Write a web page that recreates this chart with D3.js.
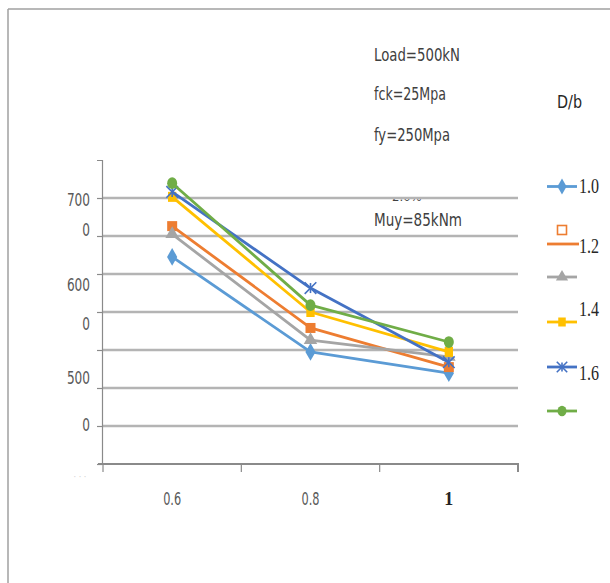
<!DOCTYPE html>
<html><head><meta charset="utf-8">
<script src="https://cdn.jsdelivr.net/npm/d3@7"></script>
<style>
html,body{margin:0;padding:0;background:#fff;}
svg{display:block;}
</style></head>
<body>
<svg id="c" width="610" height="583"></svg>
<script>
// ---- data ----
const categories = ["0.6", "0.8", "1"];
const seriesNames = ["1.0", "1.2", "", "1.4", "1.6", ""];
const seriesColors = ["#5B9BD5", "#ED7D31", "#A5A5A5", "#FFC000", "#4472C4", "#70AD47"];
const seriesMarkers = ["diamond", "square", "triangle", "bar", "star", "circle"];
const s10 = [5.45, 2.95, 2.39];
const s12 = [6.26, 3.58, 2.55];
const sGray = [6.05, 3.26, 2.82];
const s14 = [7.03, 4.00, 2.95];
const s16 = [7.16, 4.63, 2.68];
const sGreen = [7.39, 4.18, 3.21];
const seriesValues = [s10, s12, sGray, s14, s16, sGreen];
const gridValues = [1, 2, 3, 4, 5, 6, 7];
const yTickLabels = ["700", "0", "600", "0", "500", "0"];
const yTickLabelValues = [6.97, 6.17, 4.71, 3.70, 2.27, 1.03];
const annotations = ["Load=500kN", "fck=25Mpa", "fy=250Mpa", "Muy=85kNm"];
const legendTitle = "D/b";

// ---- drawing ----
const svg = d3.select("#c");
const narrow = "'Liberation Sans Narrow','Arial Narrow','DejaVu Sans Condensed',sans-serif";

// outer frame
svg.append("line").attr("x1", 8).attr("x2", 610).attr("y1", 9).attr("y2", 9)
  .attr("stroke", "#a0a0a0").attr("stroke-width", 1.5);
svg.append("line").attr("x1", 8).attr("x2", 8).attr("y1", 9).attr("y2", 583)
  .attr("stroke", "#a0a0a0").attr("stroke-width", 1.5);

const x = d3.scaleBand().domain(categories).range([103, 518]).paddingInner(0).paddingOuter(0);
const xc = c => x(c) + x.bandwidth() / 2;
const y = d3.scaleLinear().domain([0, 8]).range([464, 160]);

// gridlines
svg.append("g").selectAll("line").data(gridValues).join("line")
  .attr("x1", 103).attr("x2", 518)
  .attr("y1", d => y(d)).attr("y2", d => y(d))
  .attr("stroke", "#b4b4b4").attr("stroke-width", 2.5);

// y axis
const yAxis = d3.axisLeft(y).tickValues(d3.range(0, 8)).tickSize(5).tickFormat("");
const gy = svg.append("g").attr("transform", "translate(102,0)").call(yAxis);
gy.select(".domain").attr("stroke", "#8a8a8a").attr("stroke-width", 1.2);
gy.selectAll(".tick line").attr("stroke", "#8a8a8a").attr("stroke-width", 1.2);

// y tick labels (wrapped in source)
svg.append("g").selectAll("text").data(yTickLabels).join("text")
  .attr("x", 90).attr("y", (d, i) => y(yTickLabelValues[i]))
  .attr("dy", "0.38em").attr("text-anchor", "end")
  .attr("font-family", narrow).attr("font-size", 17).attr("fill", "#595959")
  .attr("textLength", d => d.length * 7.7).attr("lengthAdjust", "spacingAndGlyphs")
  .text(d => d);
svg.append("text").attr("x", 80).attr("y", 480).attr("text-anchor", "middle")
  .attr("font-family", narrow).attr("font-size", 9).attr("fill", "#d0d0d0").text("· · ·");

// x axis
const xAxis = d3.axisBottom(x).tickSize(8).tickFormat("");
const gx = svg.append("g").attr("transform", "translate(0,464)").call(xAxis);
gx.select(".domain").attr("stroke", "#8a8a8a").attr("stroke-width", 2)
  .attr("d", "M98,0H518V8");
gx.selectAll(".tick").remove();
gx.append("g").selectAll("line").data(categories).join("line")
  .attr("x1", d => x(d)).attr("x2", d => x(d)).attr("y1", 0).attr("y2", 8)
  .attr("stroke", "#8a8a8a").attr("stroke-width", 1.2);
gx.append("g").selectAll("text").data(categories).join("text")
  .attr("x", (d, i) => i === 2 ? xc(d) : xc(d) - 9).attr("y", 41)
  .attr("text-anchor", (d, i) => i === 2 ? "middle" : "start")
  .attr("font-family", (d, i) => i === 2 ? "'Liberation Serif',serif" : narrow)
  .attr("font-weight", (d, i) => i === 2 ? "bold" : "normal")
  .attr("font-size", (d, i) => i === 2 ? 18 : 17)
  .attr("fill", (d, i) => i === 2 ? "#222" : "#595959")
  .attr("textLength", (d, i) => i === 2 ? null : 18)
  .attr("lengthAdjust", "spacingAndGlyphs")
  .text(d => d);

// marker generator
function marker(g, type, color, size, hollow) {
  const s = size;
  if (type === "diamond") {
    g.append("path").attr("d", d3.symbol(d3.symbolDiamond, s * s * 0.9)()).attr("fill", color);
  } else if (type === "square") {
    g.append("rect").attr("x", -s / 2).attr("y", -s / 2).attr("width", s).attr("height", s)
      .attr("fill", hollow ? "#fff" : color).attr("stroke", color).attr("stroke-width", hollow ? 1.6 : 0);
  } else if (type === "triangle") {
    g.append("path").attr("d", d3.symbol(d3.symbolTriangle, s * s * 0.8)()).attr("fill", color);
  } else if (type === "bar") {
    g.append("rect").attr("x", -s / 2.4).attr("y", -s / 2).attr("width", s / 1.2).attr("height", s)
      .attr("fill", color);
  } else if (type === "star") {
    g.append("path").attr("d", d3.symbol(d3.symbolX, s * s * 0.9)()).attr("stroke", color)
      .attr("stroke-width", 1.6).attr("fill", "none");
    g.append("line").attr("x1", 0).attr("x2", 0).attr("y1", -s / 2).attr("y2", s / 2)
      .attr("stroke", color).attr("stroke-width", 1.6);
  } else if (type === "circle") {
    g.append("ellipse").attr("rx", s / 2).attr("ry", s / 1.7).attr("fill", color);
  }
}

// series lines
const line = d3.line().x((d, i) => xc(categories[i])).y(d => y(d));
seriesValues.forEach((vals, si) => {
  const g = svg.append("g");
  g.append("path").datum(vals).attr("d", line).attr("fill", "none")
    .attr("stroke", seriesColors[si]).attr("stroke-width", 2.8).attr("stroke-linejoin", "round");
  vals.forEach((v, i) => {
    const m = g.append("g").attr("transform", `translate(${xc(categories[i])},${y(v)})`);
    marker(m, seriesMarkers[si], seriesColors[si], 10, false);
  });
});

// annotations
const annY = [61, 100, 141, 226];
svg.append("g").selectAll("text").data(annotations).join("text")
  .attr("x", 374).attr("y", (d, i) => annY[i])
  .attr("font-family", narrow).attr("font-size", 18).attr("fill", "#404040")
  .attr("textLength", (d, i) => [86, 72, 76, 88][i]).attr("lengthAdjust", "spacingAndGlyphs")
  .text(d => d);
// clipped "2.0%" label hidden behind gridline
const clip = svg.append("clipPath").attr("id", "clipPct");
clip.append("rect").attr("x", 380).attr("y", y(7) + 1.3).attr("width", 60).attr("height", 4);
svg.append("text").attr("x", 392).attr("y", 201).attr("clip-path", "url(#clipPct)")
  .attr("font-family", narrow).attr("font-size", 13).attr("fill", "#404040").text("2.0%");

// legend
svg.append("text").attr("x", 557).attr("y", 108)
  .attr("font-family", narrow).attr("font-size", 18).attr("fill", "#262626")
  .attr("textLength", 25).attr("lengthAdjust", "spacingAndGlyphs").text(legendTitle);
const legY = [186.5, 244, 277, 322, 367, 411];
const legLabelY = [193, 253, 0, 316, 380, 0];
const legMarkerY = [186.5, 230, 277, 322, 367, 411];
seriesNames.forEach((name, si) => {
  const g = svg.append("g");
  g.append("line").attr("x1", 547).attr("x2", si === 1 ? 579 : 577)
    .attr("y1", legY[si]).attr("y2", legY[si])
    .attr("stroke", seriesColors[si]).attr("stroke-width", 2.8);
  const m = g.append("g").attr("transform", `translate(562,${legMarkerY[si]})`);
  marker(m, seriesMarkers[si], seriesColors[si], 9, si === 1);
  if (name) {
    g.append("text").attr("x", 579).attr("y", legLabelY[si])
      .attr("font-family", "'Liberation Serif','Times New Roman',serif").attr("font-size", 20)
      .attr("fill", "#262626").attr("textLength", 20).attr("lengthAdjust", "spacingAndGlyphs")
      .text(name);
  }
});
</script>
</body></html>
